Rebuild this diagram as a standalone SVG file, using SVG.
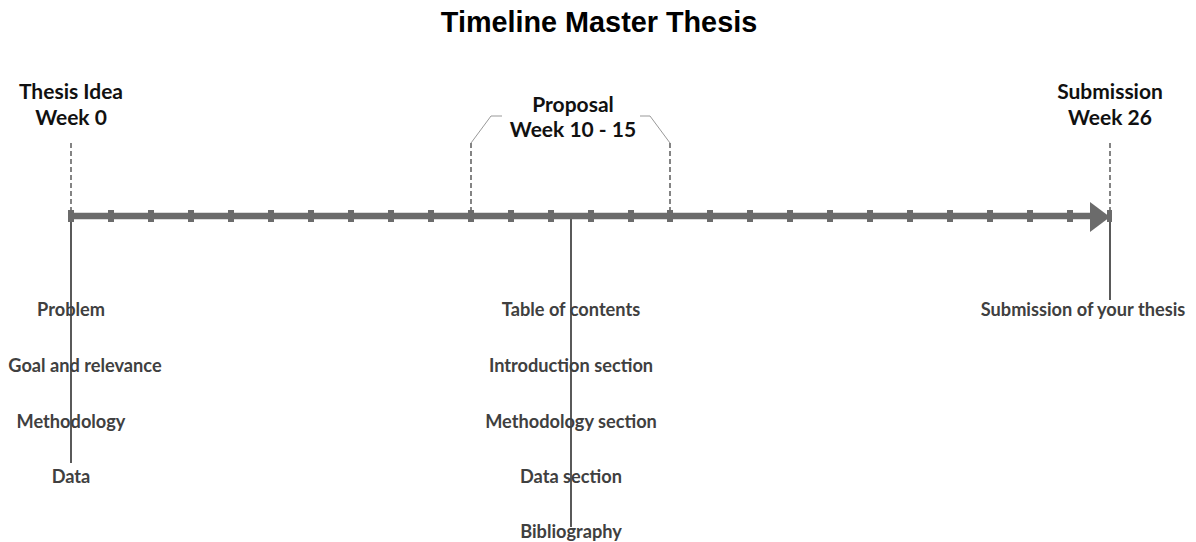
<svg xmlns="http://www.w3.org/2000/svg" width="1196" height="542" viewBox="0 0 1196 542">
<style>
.title{font-family:"Liberation Sans",Arial,sans-serif;font-weight:bold;font-size:28.8px;fill:#000;text-anchor:middle}
.head{font-family:Lato,"Open Sans",sans-serif;font-weight:bold;font-size:21px;fill:#111;text-anchor:middle}
.item{font-family:Lato,"Open Sans",sans-serif;font-weight:bold;font-size:18.2px;fill:#404040;text-anchor:middle}
.dash{stroke:#333;stroke-width:1.2;stroke-dasharray:5 3;fill:none}
.solid{stroke:#000;stroke-width:1.3;fill:none}
.diag{stroke:#999;stroke-width:1;fill:none}
.tick{fill:#6b6b6b}
</style>
<rect width="1196" height="542" fill="#fff"/>
<text class="title" x="599" y="32">Timeline Master Thesis</text>
<g id="connectors">
<line class="dash" x1="71" y1="143" x2="71" y2="216"/>
<line class="dash" x1="471" y1="143" x2="471" y2="216"/>
<line class="dash" x1="670" y1="143" x2="670" y2="216"/>
<line class="dash" x1="1110" y1="143" x2="1110" y2="216"/>
<polyline class="diag" points="471,143 491,116 502,116"/>
<polyline class="diag" points="670,143 650,116 640,116"/>
<line class="solid" x1="71" y1="216" x2="71" y2="463"/>
<line class="solid" x1="571" y1="216" x2="571" y2="527"/>
<line class="solid" x1="1110" y1="216" x2="1110" y2="300"/>
</g>
<g id="timeline">
<line x1="70" y1="216" x2="1092" y2="216" stroke="#6b6b6b" stroke-width="6.5"/>
<polygon points="1090,202 1110,217 1090,232" fill="#6b6b6b"/>
<rect class="tick" x="68" y="210" width="6" height="12"/>
<rect class="tick" x="108" y="210" width="6" height="12"/>
<rect class="tick" x="148" y="210" width="6" height="12"/>
<rect class="tick" x="188" y="210" width="6" height="12"/>
<rect class="tick" x="228" y="210" width="6" height="12"/>
<rect class="tick" x="268" y="210" width="6" height="12"/>
<rect class="tick" x="308" y="210" width="6" height="12"/>
<rect class="tick" x="348" y="210" width="6" height="12"/>
<rect class="tick" x="388" y="210" width="6" height="12"/>
<rect class="tick" x="428" y="210" width="6" height="12"/>
<rect class="tick" x="468" y="210" width="6" height="12"/>
<rect class="tick" x="508" y="210" width="6" height="12"/>
<rect class="tick" x="548" y="210" width="6" height="12"/>
<rect class="tick" x="588" y="210" width="6" height="12"/>
<rect class="tick" x="628" y="210" width="6" height="12"/>
<rect class="tick" x="667" y="210" width="6" height="12"/>
<rect class="tick" x="707" y="210" width="6" height="12"/>
<rect class="tick" x="747" y="210" width="6" height="12"/>
<rect class="tick" x="787" y="210" width="6" height="12"/>
<rect class="tick" x="827" y="210" width="6" height="12"/>
<rect class="tick" x="867" y="210" width="6" height="12"/>
<rect class="tick" x="907" y="210" width="6" height="12"/>
<rect class="tick" x="947" y="210" width="6" height="12"/>
<rect class="tick" x="987" y="210" width="6" height="12"/>
<rect class="tick" x="1027" y="210" width="6" height="12"/>
<rect class="tick" x="1067" y="210" width="6" height="12"/>
<rect class="tick" x="1107" y="210" width="5" height="12"/>
</g>
<g id="thesis-idea">
<text class="head" x="71" y="99">Thesis Idea</text>
<text class="head" x="71" y="125">Week 0</text>
<text class="item" x="71" y="316">Problem</text>
<text class="item" x="85" y="372">Goal and relevance</text>
<text class="item" x="71" y="428">Methodology</text>
<text class="item" x="71" y="483">Data</text>
</g>
<g id="proposal">
<text class="head" x="573" y="112">Proposal</text>
<text class="head" x="573" y="137">Week 10 - 15</text>
<text class="item" x="571" y="316">Table of contents</text>
<text class="item" x="571" y="372">Introduction section</text>
<text class="item" x="571" y="428">Methodology section</text>
<text class="item" x="571" y="483">Data section</text>
<text class="item" x="571" y="538">Bibliography</text>
</g>
<g id="submission">
<text class="head" x="1110" y="99">Submission</text>
<text class="head" x="1110" y="125">Week 26</text>
<text class="item" x="1083" y="316">Submission of your thesis</text>
</g>
</svg>
